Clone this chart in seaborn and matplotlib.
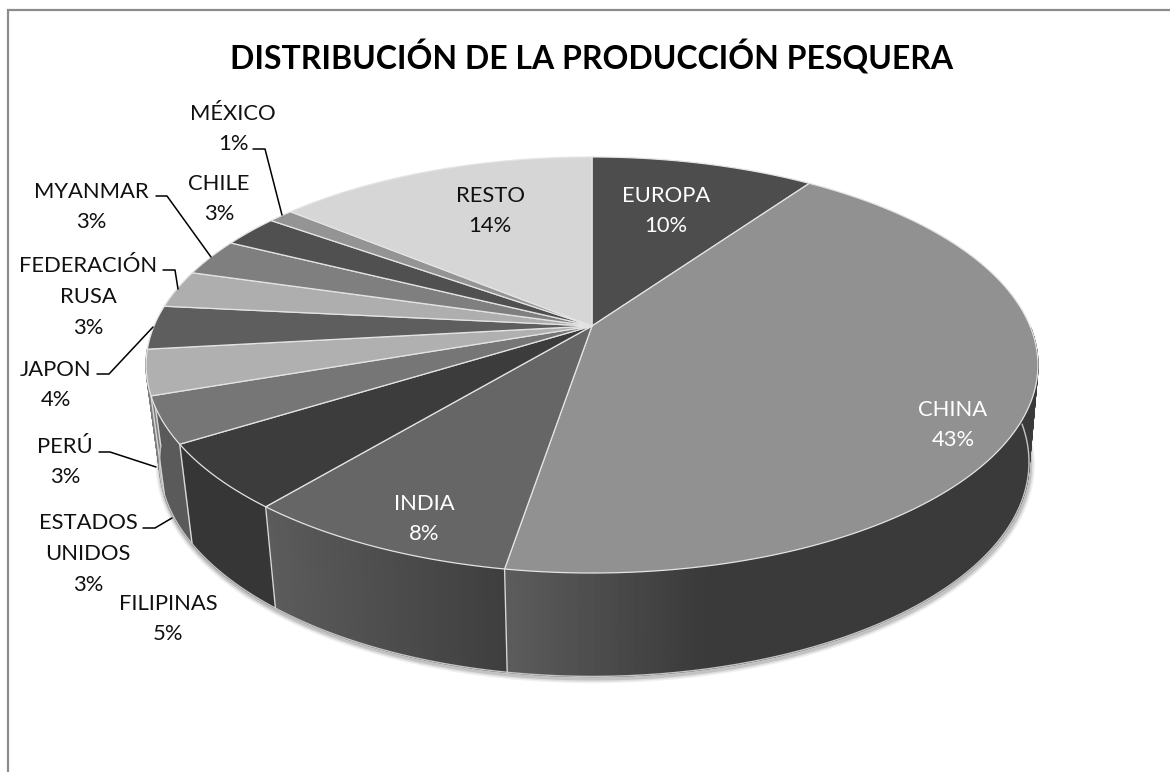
import numpy as np
import matplotlib
matplotlib.use('Agg')
import matplotlib.pyplot as plt
from matplotlib.collections import PolyCollection
import seaborn as sns

sns.set_theme(style='white')
plt.rcParams['font.family'] = ['Lato', 'DejaVu Sans']

# values (clockwise from 12 o'clock)
paises = ['EUROPA', 'CHINA', 'INDIA', 'FILIPINAS', 'ESTADOS UNIDOS', 'PERÚ', 'JAPON',
          'FEDERACIÓN RUSA', 'MYANMAR', 'CHILE', 'MÉXICO', 'RESTO']
valores = [9.7, 42.9, 8.4, 5.1, 3.6, 3.5, 3.4, 2.9, 2.9, 2.5, 1.1, 14.0]
etiquetas = ['10%', '43%', '8%', '5%', '3%', '3%', '4%', '3%', '3%', '3%', '1%', '14%']
textos = ['EUROPA', 'CHINA', 'INDIA', 'FILIPINAS', 'ESTADOS\nUNIDOS', 'PERÚ', 'JAPON',
          'FEDERACIÓN\nRUSA', 'MYANMAR', 'CHILE', 'MÉXICO', 'RESTO']

# styles
col_top = ['#4d4d4d', '#919191', '#666666', '#3c3c3c', '#767676', '#b0b0b0', '#5e5e5e',
           '#aeaeae', '#7f7f7f', '#505050', '#949494', '#d6d6d6']
col_side = {'CHINA': ['#5c5c5c', '#3a3a3a'], 'INDIA': ['#5c5c5c', '#3e3e3e'],
            'FILIPINAS': ['#363636', '#363636'], 'ESTADOS UNIDOS': ['#5a5a5a', '#5a5a5a'],
            'PERÚ': ['#7c7c7c', '#7c7c7c'], 'EUROPA': ['#3a3a3a', '#3a3a3a']}
pos_texto = {'EUROPA': (666, 211), 'CHINA': (953, 425), 'INDIA': (424, 519), 'FILIPINAS': (168, 619),
             'ESTADOS UNIDOS': (88, 554), 'PERÚ': (65, 462), 'JAPON': (56, 385),
             'FEDERACIÓN RUSA': (88, 297), 'MYANMAR': (91, 207), 'CHILE': (219, 199),
             'MÉXICO': (233, 129), 'RESTO': (490, 211)}
color_texto = {'EUROPA': 'white', 'CHINA': 'white', 'INDIA': 'white'}
guias = [[(253, 149), (265, 149), (282, 215)], [(156, 196), (167, 196), (211, 257)],
         [(163, 270), (175, 270), (178, 289)], [(97, 374), (109, 374), (153, 327)],
         [(99, 452), (110, 452), (156, 467)], [(143, 528), (155, 528), (172, 518)]]

CX, CY = 592, 326
RX, RY, K = 438, 200.7, 0.1875


def rim(theta):
    # perspective projection of the disc edge, theta clockwise from the top
    u, v = np.sin(theta), np.cos(theta)
    return CX + RX * u / (1 + K * v), CY - RY * v / (1 + K * v)


def low(x, y):
    # same rim, pushed down to the lower face of the pie
    return CX + np.where(x > CX, 0.98, 0.97) * (x - CX), 422 + 1.03 * (y - CY)


fig, ax = plt.subplots(figsize=(11.7, 7.72), dpi=100)
ax.set_position([0, 0, 1, 1])
ax.set_xlim(0, 1170)
ax.set_ylim(772, 0)
ax.axis('off')

# chart frame (only left and top are visible)
ax.plot([8, 8, 1170], [772, 10, 10], color='#8c8c8c', lw=1.6, solid_joinstyle='miter', zorder=1)

cortes = np.cumsum([0] + valores) / sum(valores) * 2 * np.pi

# soft shadow under the lower rim
t = np.linspace(np.radians(95), np.radians(262), 300)
bx, by = low(*rim(t))
for w, a in zip([7, 5, 3], [0.08, 0.12, 0.2]):
    ax.plot(bx + 1, by + 2, color='#555555', lw=w, alpha=a, zorder=2, solid_capstyle='round')

# side wall, back to front
for i, nom in enumerate(paises):
    if nom not in col_side:
        continue
    t = np.linspace(cortes[i], cortes[i + 1], int(valores[i] * 6) + 2)
    t = t[(t > np.radians(90)) & (t < np.radians(272))]
    if len(t) < 2:
        continue
    x, y = rim(t)
    xb, yb = low(x, y)
    pal = sns.blend_palette(col_side[nom], 60)
    x0 = {'CHINA': 506, 'INDIA': 263}.get(nom, x.min())
    ancho = {'CHINA': 200, 'INDIA': 243}.get(nom, 1)
    polys, cols = [], []
    for j in range(len(t) - 1):
        polys.append([(x[j], y[j]), (x[j + 1], y[j + 1]), (xb[j + 1], yb[j + 1]), (xb[j], yb[j])])
        f = np.clip((x[j] - x0) / ancho, 0, 1)
        cols.append(pal[int(f * 59)])
    ax.add_collection(PolyCollection(polys, facecolors=cols, edgecolors=cols, linewidths=1.0, zorder=3))
    # separator and lower rim
    ax.plot([x[-1], xb[-1]], [y[-1], yb[-1]], color='#d8d8d8', lw=1, zorder=4)
    ax.plot(xb, yb, color='#c4c4c4', lw=1, zorder=4)

# top face
for i, nom in enumerate(paises):
    t = np.linspace(cortes[i], cortes[i + 1], int(valores[i] * 6) + 2)
    x, y = rim(t)
    ax.fill(np.r_[CX, x], np.r_[CY, y], facecolor=col_top[i], edgecolor='#e4e4e4', lw=0.9, zorder=5,
            joinstyle='round')

# labels
for i, nom in enumerate(paises):
    px, py = pos_texto[nom]
    ax.text(px, py, textos[i] + '\n' + etiquetas[i], ha='center', va='center', fontsize=15.8,
            color=color_texto.get(nom, '#111111'), linespacing=1.66, zorder=7)
for g in guias:
    ax.plot(*zip(*g), color='black', lw=1.1, zorder=6)

ax.text(592, 57, 'DISTRIBUCIÓN DE LA PRODUCCIÓN PESQUERA', ha='center', va='center',
        fontsize=23, fontweight='bold', color='black', zorder=7)

fig.savefig('out.png', dpi=100)
